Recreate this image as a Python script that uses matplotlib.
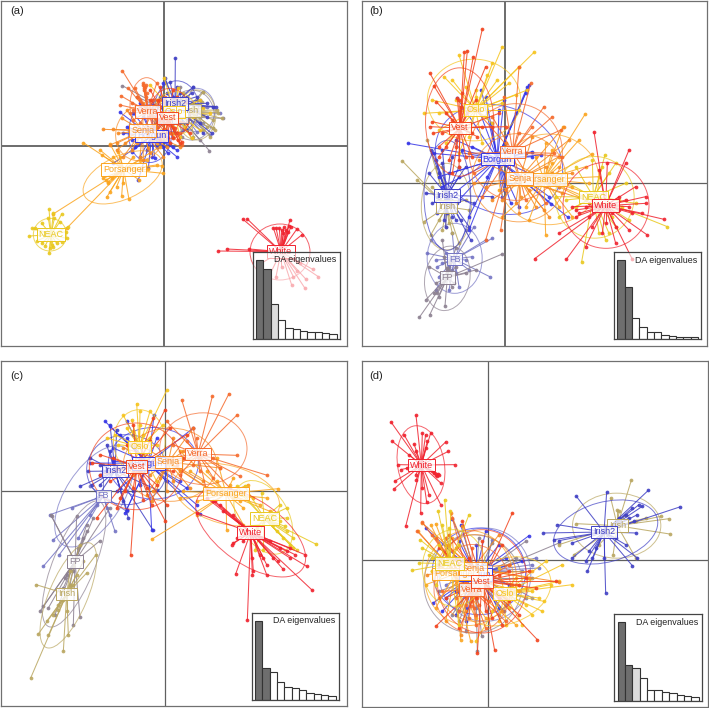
import matplotlib
matplotlib.use('Agg')
import matplotlib.pyplot as plt
from matplotlib.patches import Ellipse

plt.rcParams['font.family'] = ['Liberation Sans', 'DejaVu Sans']

COLORS = {'FB': '#7474c4', 'FP': '#8c8090', 'Irish': '#b9a660', 'Irish2': '#3f3fc4', 'Borgun': '#3535e6',
          'Oslo': '#f6c41c', 'Porsanger': '#fba51f', 'Senja': '#f78a22', 'Verra': '#f56a2c', 'Vest': '#f2441e',
          'NEAC': '#e9c81e', 'White': '#f0222e'}
ORDER = ['FB', 'FP', 'Irish', 'Irish2', 'Borgun', 'Oslo', 'Porsanger', 'Senja', 'Verra', 'Vest', 'NEAC', 'White']
EIG_COLORS = {'a': ['#6e6e6e', '#6e6e6e', '#dcdcdc'], 'b': ['#6e6e6e', '#6e6e6e', 'white'],
              'c': ['#6e6e6e', '#6e6e6e', 'white'], 'd': ['#6e6e6e', '#6e6e6e', '#dcdcdc']}

# Discriminant scores (one unit = 1/3 pixel)
A_CENTER = {'FB': (545,335), 'FP': (540,350), 'Irish': (570,332), 'Irish2': (525,311), 'Borgun': (455,408), 'Oslo': (522,336),
            'Porsanger': (371,508), 'Senja': (428,392), 'Verra': (443,334), 'Vest': (502,354), 'NEAC': (153,704), 'White': (843,755)}
A_ELLIPSE = {'FB': (590,330,110,130,0), 'FP': (575,345,135,150,0), 'Irish': (590,345,115,150,0), 'Irish2': (530,320,130,155,0),
             'Borgun': (450,400,130,175,0), 'Oslo': (525,340,130,130,0), 'Porsanger': (368,532,255,130,-25),
             'Senja': (420,400,145,165,15), 'Verra': (440,318,100,170,0), 'Vest': (510,340,120,150,0),
             'NEAC': (150,704,100,98,0), 'White': (840,756,180,168,0)}
A_FB = [(495,245),(580,260),(640,320),(660,340),(630,405),(590,395),(550,390),(560,290),(620,320),(600,350),(520,370),(610,370)]
A_FP = [(367,257),(628,452),(608,275),(668,355),(640,385),(600,420),(575,415),(410,290),(540,260),(490,300),(520,320),(545,410)]
A_IRISH = [(610,275),(605,305),(665,355),(655,338),(640,385),(645,390),(630,410),(610,390),(580,410),(555,380),(530,300),(520,350),(590,300),(550,280),(600,340),(620,380),(640,360),(650,330),(610,345)]
A_IRISH2 = [(526,173),(495,235),(510,245),(580,260),(600,300),(640,320),(648,320),(620,350),(600,370),(560,390),(520,400),(480,290),(500,280),(545,300),(590,335),(540,280),(575,310),(635,400),(610,400),(560,300),(610,320),(620,310),(590,290),(575,280),(530,260),(560,360)]
A_BORGUN = [(360,337),(395,455),(340,490),(415,540),(445,505),(465,475),(505,460),(530,470),(530,450),(510,430),(380,380),(400,340),(420,310),(490,250),(520,290),(500,310),(460,300),(430,350),(470,440),(420,470),(405,440),(440,450),(455,470),(490,440),(520,440),(395,420),(370,400),(470,360),(500,350)]
A_OSLO = [(450,255),(493,235),(535,265),(550,300),(600,300),(630,340),(600,390),(575,415),(540,410),(520,380),(470,300),(490,400),(610,325),(580,350),(555,380)]
A_PORSANGER = [(158,643),(200,685),(250,428),(305,465),(320,592),(365,587),(387,598),(370,550),(350,560),(330,575),(325,550),(310,535),(490,520),(487,497),(470,495),(418,540),(445,508),(330,432),(300,450),(318,540),(340,470),(360,470),(400,470),(420,480),(345,525),(335,535),(325,545),(355,455),(440,480),(480,440)]
A_SENJA = [(310,388),(338,388),(330,435),(355,400),(350,450),(370,470),(490,470),(450,460),(420,470),(395,450),(430,310),(480,300),(520,350),(500,420),(540,440),(470,430),(365,355),(380,330),(430,480),(520,400),(480,400),(460,420),(445,445),(410,430),(400,390),(375,430),(350,430),(450,380),(500,440)]
A_VERRA = [(367,212),(362,287),(360,315),(385,265),(405,265),(430,250),(437,255),(433,265),(440,280),(395,310),(410,290),(470,250),(495,290),(440,400),(480,420),(520,410),(545,435),(540,400),(400,360),(470,380),(500,370),(390,340),(430,255),(435,262),(432,270),(438,290),(420,300),(460,300),(475,340),(490,390),(510,400),(420,370),(400,330)]
A_VEST = [(450,270),(480,260),(520,270),(555,310),(570,400),(535,420),(510,430),(465,400),(445,350),(450,300),(490,300),(530,290),(560,370),(545,340),(480,420),(500,395),(525,385),(530,400),(540,430),(545,425),(520,415),(500,410),(470,370),(460,330),(475,300),(510,320),(540,370)]
A_NEAC = [(147,628),(160,640),(185,642),(163,655),(145,655),(105,685),(97,685),(88,708),(112,722),(125,730),(150,745),(147,760),(160,740),(185,725),(200,715),(205,680),(198,695),(125,670),(180,665),(135,738),(155,735),(170,730)]
A_WHITE = [(728,657),(742,657),(655,753),(680,747),(748,747),(820,683),(828,683),(838,685),(845,690),(852,682),(858,690),(870,660),(867,678),(873,680),(850,700),(890,688),(905,705),(865,695),(955,830),(938,808),(918,838),(915,865),(875,855),(828,830),(800,843),(780,792),(890,812),(900,790),(845,800),(880,830)]
A_POINTS = {'FB': A_FB, 'FP': A_FP, 'Irish': A_IRISH, 'Irish2': A_IRISH2, 'Borgun': A_BORGUN, 'Oslo': A_OSLO, 'Porsanger': A_PORSANGER,
            'Senja': A_SENJA, 'Verra': A_VERRA, 'Vest': A_VEST, 'NEAC': A_NEAC, 'White': A_WHITE}
A_EIGEN = [237,210,106,59,35,31,25,22,21,19,16]

B_CENTER = {'FB': (287,777), 'FP': (265,832), 'Irish': (263,620), 'Irish2': (264,586), 'Borgun': (415,477), 'Oslo': (350,330),
            'Porsanger': (555,538), 'Senja': (482,536), 'Verra': (461,456), 'Vest': (303,384), 'NEAC': (703,591), 'White': (740,617)}
B_ELLIPSE = {'FB': (287,775,165,210,0), 'FP': (265,835,135,195,10), 'Irish': (262,620,150,260,0), 'Irish2': (265,586,140,330,0),
             'Borgun': (420,478,395,315,25), 'Oslo': (345,300,280,245,0), 'Porsanger': (570,538,300,272,0),
             'Senja': (480,533,280,265,0), 'Verra': (470,456,280,290,0), 'Vest': (302,366,205,325,0),
             'NEAC': (707,592,237,245,0), 'White': (741,616,258,258,0)}
B_FB = [(215,720),(205,760),(235,800),(240,830),(280,700),(320,690),(345,680),(380,720),(400,715),(392,830),(340,770),(300,860),(270,870),(230,870),(250,790),(330,810),(280,810),(270,800),(290,820),(260,760),(320,780),(230,780)]
B_FP = [(181,952),(212,945),(258,918),(200,900),(235,880),(210,800),(250,720),(290,745),(430,762),(350,810),(320,820),(285,850),(265,805),(270,790),(230,850),(270,810),(280,860),(240,890),(225,880),(255,770),(290,800)]
B_IRISH = [(130,483),(205,420),(175,540),(195,665),(215,705),(280,700),(300,730),(330,630),(320,600),(250,500),(230,500),(220,560),(260,680),(270,670),(250,690),(240,660)]
B_IRISH2 = [(215,450),(230,480),(200,580),(220,610),(255,660),(290,660),(305,660),(330,680),(335,720),(400,590),(345,610),(300,500),(280,470),(250,490),(210,520),(320,500),(235,640),(260,680),(265,640),(280,650),(240,520),(225,460),(250,450),(300,530),(235,590),(295,610)]
B_BORGUN = [(146,430),(295,295),(367,270),(380,290),(435,300),(510,255),(520,455),(575,612),(627,652),(480,620),(435,570),(430,590),(330,690),(330,650),(300,600),(220,460),(240,530),(290,420),(545,465),(400,380),(470,340),(455,610),(505,260),(500,280),(360,330),(395,370),(420,330),(340,440),(310,450),(270,520),(250,560),(260,600),(500,460),(520,470),(570,590),(600,560),(440,540),(385,530)]
B_OSLO = [(430,140),(525,157),(300,165),(255,230),(195,340),(218,300),(352,270),(480,200),(505,270),(470,285),(430,310),(400,370),(480,330),(300,460),(260,430),(330,410),(415,240),(370,430),(240,390),(400,190),(385,225),(350,290),(380,350),(290,300),(240,340),(280,240),(320,260),(450,250)]
B_PORSANGER = [(678,343),(612,380),(660,420),(700,462),(680,500),(720,530),(560,705),(510,660),(640,650),(430,650),(420,570),(450,480),(560,430),(600,620),(530,470),(580,490),(500,620),(660,590),(700,600),(720,590),(640,560),(600,500),(580,450),(690,550)]
B_SENJA = [(520,410),(615,380),(630,420),(600,470),(580,520),(610,580),(555,630),(480,640),(430,600),(380,560),(345,550),(360,480),(440,430),(570,650),(530,620),(485,590),(510,570),(560,500),(600,560),(640,520),(680,600),(520,520),(440,570),(400,600),(470,610),(590,550)]
B_VERRA = [(480,200),(515,250),(435,290),(555,320),(580,350),(605,390),(585,460),(560,610),(500,600),(425,690),(370,590),(330,460),(350,330),(400,350),(480,400),(520,380),(345,520),(610,470),(380,720)]
B_VEST = [(370,87),(325,152),(316,155),(343,170),(380,200),(213,220),(225,258),(232,305),(295,295),(220,365),(212,380),(222,400),(260,440),(240,470),(400,380),(440,380),(355,410),(340,470),(300,500),(280,520),(310,280),(350,300),(420,340),(260,340),(300,300),(305,320),(280,360),(330,330),(250,400),(290,440),(320,470),(300,480),(340,400),(370,380),(240,440),(270,480)]
B_NEAC = [(738,465),(750,520),(800,550),(925,680),(830,610),(810,660),(740,720),(720,700),(668,785),(600,650),(590,590),(610,540),(650,500),(700,480),(770,490),(620,600),(730,500),(790,620),(770,680),(780,600),(760,650),(650,620),(720,620),(750,700)]
B_WHITE = [(705,395),(810,450),(800,490),(860,590),(860,610),(915,658),(865,705),(810,690),(820,778),(770,730),(740,670),(680,740),(622,778),(527,776),(600,700),(650,630),(640,620),(720,510),(745,490),(830,560),(850,640),(780,590),(690,650),(760,640),(680,620),(690,610),(660,640),(780,630),(820,640),(800,600),(700,680),(730,700),(810,620),(650,650),(770,680)]
B_POINTS = {'FB': B_FB, 'FP': B_FP, 'Irish': B_IRISH, 'Irish2': B_IRISH2, 'Borgun': B_BORGUN, 'Oslo': B_OSLO, 'Porsanger': B_PORSANGER,
            'Senja': B_SENJA, 'Verra': B_VERRA, 'Vest': B_VEST, 'NEAC': B_NEAC, 'White': B_WHITE}
B_EIGEN = [237,158,63,38,22,21,14,11,8,8,6]

C_CENTER = {'FB': (310,414), 'FP': (225,610), 'Irish': (200,708), 'Irish2': (345,339), 'Borgun': (445,316), 'Oslo': (418,267),
            'Porsanger': (678,407), 'Senja': (505,312), 'Verra': (594,288), 'Vest': (410,326), 'NEAC': (793,481), 'White': (752,523)}
C_ELLIPSE = {'FB': (282,415,170,345,33), 'FP': (222,618,125,405,22), 'Irish': (205,712,115,340,23), 'Irish2': (380,335,240,210,0),
             'Borgun': (460,316,270,215,0), 'Oslo': (418,250,155,190,0), 'Porsanger': (680,410,325,175,15),
             'Senja': (510,320,280,220,0), 'Verra': (610,272,262,215,0), 'Vest': (408,325,280,260,0),
             'NEAC': (790,478,150,240,-30), 'White': (752,523,380,190,35)}
C_FB = [(158,547),(130,625),(178,590),(150,470),(215,450),(270,385),(290,440),(330,470),(380,460),(310,320),(235,540),(345,520),(270,470),(320,450)]
C_FP = [(152,470),(155,475),(120,760),(130,745),(145,750),(220,800),(240,777),(230,475),(260,500),(300,548),(330,450),(200,650),(190,690),(165,770),(235,570),(260,520),(250,540),(240,560),(220,640),(210,680),(195,660),(280,480)]
C_IRISH = [(92,960),(108,680),(115,828),(145,832),(140,790),(190,880),(205,830),(190,725),(260,645),(288,590),(240,560),(210,640),(175,755),(160,770),(220,680),(210,680),(190,700),(175,740),(200,760),(230,650),(250,610)]
C_IRISH2 = [(330,200),(350,215),(270,300),(265,340),(240,385),(380,455),(385,480),(458,515),(470,395),(330,280),(300,320),(400,400),(360,390),(275,380),(320,260),(340,300),(300,380),(290,420),(370,430)]
C_BORGUN = [(315,190),(330,205),(380,190),(462,172),(580,210),(600,468),(455,515),(380,455),(375,465),(270,315),(300,350),(340,270),(470,240),(540,370),(420,380),(360,230),(380,240),(400,230),(340,310),(500,370),(560,390),(590,440),(420,300),(480,300),(350,400),(310,340)]
C_OSLO = [(500,97),(410,137),(370,172),(395,185),(420,160),(450,160),(320,240),(345,230),(355,260),(470,260),(470,370),(400,330),(440,300),(490,200),(380,210),(400,220),(430,230),(420,200),(450,240)]
C_PORSANGER = [(455,544),(540,420),(590,430),(590,470),(680,515),(730,500),(835,392),(745,380),(700,360),(620,340),(570,340),(540,280),(650,300),(780,440),(720,430),(620,400),(550,400),(700,420),(730,450),(760,420),(690,380),(650,370),(800,420),(810,460)]
C_SENJA = [(580,210),(600,300),(640,400),(660,330),(500,400),(455,430),(400,350),(390,310),(370,270),(420,260),(520,240),(550,280),(460,400),(610,370),(440,410),(520,370),(540,340),(570,390),(620,390),(480,360),(450,350)]
C_VERRA = [(545,125),(637,115),(687,107),(712,170),(500,190),(580,210),(590,240),(710,292),(802,352),(720,355),(660,330),(620,400),(540,350),(500,300),(520,260),(640,300),(600,340),(560,250),(580,320),(640,360),(690,390),(530,320)]
C_VEST = [(495,155),(460,180),(400,200),(510,210),(275,315),(300,290),(330,370),(392,592),(495,488),(430,425),(350,450),(550,300),(560,230),(375,400),(290,480),(455,440),(300,350),(340,300),(380,260),(450,250),(480,300),(520,340),(360,420),(400,390),(470,380),(500,440),(440,390),(350,330)]
C_NEAC = [(947,558),(890,575),(860,450),(855,505),(765,575),(790,575),(880,540),(840,440),(785,405),(735,385),(725,410),(710,385),(870,560),(830,520),(815,470),(840,490),(860,520),(850,540),(880,570),(820,500),(790,540),(770,510),(860,480)]
C_WHITE = [(742,787),(707,648),(757,650),(760,640),(790,600),(700,555),(695,560),(848,632),(800,650),(920,625),(937,697),(885,590),(915,590),(640,430),(620,420),(590,465),(670,460),(810,550),(840,570),(710,540),(755,600),(870,600),(730,550),(780,590),(820,600),(860,580),(870,570),(700,470),(660,440),(645,430),(780,540),(800,620),(835,610)]
C_POINTS = {'FB': C_FB, 'FP': C_FP, 'Irish': C_IRISH, 'Irish2': C_IRISH2, 'Borgun': C_BORGUN, 'Oslo': C_OSLO, 'Porsanger': C_PORSANGER,
            'Senja': C_SENJA, 'Verra': C_VERRA, 'Vest': C_VEST, 'NEAC': C_NEAC, 'White': C_WHITE}
C_EIGEN = [236,96,83,52,39,36,30,19,18,15,10]

D_CENTER = {'FB': (375,640), 'FP': (350,660), 'Irish': (775,503), 'Irish2': (735,522), 'Borgun': (350,650), 'Oslo': (436,706),
            'Porsanger': (288,648), 'Senja': (342,631), 'Verra': (337,694), 'Vest': (369,670), 'NEAC': (272,617), 'White': (187,321)}
D_ELLIPSE = {'FB': (378,650,275,280,0), 'FP': (342,678,295,295,0), 'Irish': (773,503,265,195,0), 'Irish2': (740,522,320,180,-15),
             'Borgun': (360,640,280,260,0), 'Oslo': (438,700,285,195,-20), 'Porsanger': (330,660,265,285,0),
             'Senja': (350,660,245,260,0), 'Verra': (340,692,230,265,0), 'Vest': (370,670,270,310,0),
             'NEAC': (285,630,190,230,0), 'White': (186,320,140,236,-10)}
D_FB = [(540,630),(530,600),(400,545),(290,600),(300,700),(350,750),(440,740),(490,640),(420,770),(260,680),(520,620),(520,720)]
D_FP = [(355,880),(368,835),(320,820),(240,700),(520,660),(500,720),(500,550),(400,555),(360,540),(600,555),(470,600),(300,790),(280,770)]
D_IRISH = [(817,367),(755,420),(775,455),(930,482),(905,475),(932,528),(830,600),(762,592),(720,560),(652,497),(600,560),(645,590),(800,470),(780,460),(830,490),(860,480),(770,520)]
D_IRISH2 = [(652,415),(743,403),(868,397),(962,447),(850,445),(825,490),(832,525),(835,600),(820,623),(770,540),(740,705),(685,640),(680,610),(595,500),(553,525),(585,545),(640,555),(700,600),(840,440),(800,560),(735,600),(780,480),(800,470),(810,480),(820,450),(835,470),(690,580),(710,570),(600,548),(640,600)]
D_BORGUN = [(222,735),(200,510),(280,482),(305,500),(510,533),(435,760),(290,770),(250,760),(320,790),(420,750),(350,560),(490,610),(300,550),(450,680),(230,640),(290,700),(260,720),(320,750),(380,520),(420,560),(440,600),(300,620)]
D_OSLO = [(640,680),(575,680),(555,730),(550,760),(490,800),(440,800),(350,850),(500,690),(470,660),(420,630),(560,610),(600,670),(400,760),(520,770),(480,680),(520,700),(540,720),(500,740),(450,750),(420,790),(610,620)]
D_PORSANGER = [(230,497),(178,520),(215,500),(235,620),(305,845),(335,850),(470,800),(520,640),(350,780),(260,790),(200,680),(280,540),(440,720),(230,750),(240,560),(220,640),(300,740),(320,760),(380,780),(480,700)]
D_SENJA = [(190,495),(275,465),(310,505),(420,530),(510,660),(600,672),(430,760),(305,830),(240,720),(205,650),(260,560),(360,680),(450,620),(270,600),(290,570),(400,640),(430,700),(460,680)]
D_VERRA = [(190,493),(175,520),(220,530),(280,480),(300,760),(330,780),(350,800),(380,810),(440,790),(450,620),(360,740),(320,740),(250,700),(240,620),(340,570),(390,730),(400,650),(340,730),(345,750),(350,770),(335,745),(355,720),(320,720),(290,720),(270,560),(260,540),(230,540),(300,600)]
D_VEST = [(460,465),(535,845),(480,770),(310,490),(270,530),(240,570),(260,720),(230,805),(300,810),(407,877),(355,885),(430,800),(510,640),(530,690),(590,670),(430,560),(370,550),(400,780),(420,650),(450,640),(480,680),(500,660),(350,720),(380,760),(300,640),(330,600),(420,720),(450,730)]
D_NEAC = [(257,425),(237,458),(183,545),(160,637),(180,615),(210,590),(190,570),(272,460),(300,800),(230,680),(350,640),(300,560),(330,470),(240,560),(220,600),(220,640),(250,500),(270,510)]
D_WHITE = [(96,192),(171,172),(135,230),(100,250),(165,258),(190,225),(215,225),(260,252),(268,280),(288,320),(117,320),(125,335),(107,370),(105,393),(140,505),(185,465),(203,432),(245,440),(245,375),(240,350),(232,350),(210,410),(172,365),(150,290),(235,355),(238,348),(225,345),(200,230),(205,250),(200,270),(170,280),(145,330),(170,350),(190,390)]
D_POINTS = {'FB': D_FB, 'FP': D_FP, 'Irish': D_IRISH, 'Irish2': D_IRISH2, 'Borgun': D_BORGUN, 'Oslo': D_OSLO, 'Porsanger': D_PORSANGER,
            'Senja': D_SENJA, 'Verra': D_VERRA, 'Vest': D_VEST, 'NEAC': D_NEAC, 'White': D_WHITE}
D_EIGEN = [237,109,98,68,34,32,26,23,18,16,12]

PANELS = {
    'a': dict(center=A_CENTER, ellipse=A_ELLIPSE, points=A_POINTS, eigen=A_EIGEN, off=(0, 0), frame=(3, 2, 1041, 1038), cross=(491, 437), inset=(758, 755, 1019, 1018), cross_lw=(1.3, 1.3), tag=(50, 33)),
    'b': dict(center=B_CENTER, ellipse=B_ELLIPSE, points=B_POINTS, eigen=B_EIGEN, off=(359, 0), frame=(10, 2, 1045, 1038), cross=(438, 550), inset=(765, 757, 1026, 1018), cross_lw=(1.3, 0.9), tag=(50, 32)),
    'c': dict(center=C_CENTER, ellipse=C_ELLIPSE, points=C_POINTS, eigen=C_EIGEN, off=(0, 358), frame=(3, 10, 1040, 1045), cross=(496, 398), inset=(755, 764, 1016, 1025), cross_lw=(0.9, 0.9), tag=(50, 55)),
    'd': dict(center=D_CENTER, ellipse=D_ELLIPSE, points=D_POINTS, eigen=D_EIGEN, off=(359, 358), frame=(10, 10, 1047, 1047), cross=(387, 605), inset=(766, 768, 1028, 1029), cross_lw=(0.9, 0.9), tag=(50, 55)),
}

W, H = 709, 708
fig = plt.figure(figsize=(W / 100, H / 100), dpi=100)


def rect(off, box):
    x0, y0, x1, y1 = box
    left = off[0] + x0 / 3
    right = off[0] + x1 / 3
    top = off[1] + y0 / 3
    bottom = off[1] + y1 / 3
    return [left / W, 1 - bottom / H, (right - left) / W, (bottom - top) / H]


for key, p in PANELS.items():
    x0, y0, x1, y1 = p['frame']
    ax = fig.add_axes(rect(p['off'], p['frame']))
    ax.set_xlim(x0, x1)
    ax.set_ylim(y1, y0)
    ax.set_xticks([])
    ax.set_yticks([])
    for s in ax.spines.values():
        s.set_color('#707070')
        s.set_linewidth(0.9)
    ax.axvline(p['cross'][0], color='#606060', lw=p['cross_lw'][0], zorder=1)
    ax.axhline(p['cross'][1], color='#606060', lw=p['cross_lw'][1], zorder=1)
    for name in ORDER:
        col = COLORS[name]
        cx, cy = p['center'][name]
        for (px, py) in p['points'][name]:
            ax.plot([cx, px], [cy, py], color=col, lw=0.75, alpha=0.85, zorder=2, solid_capstyle='round')
        xs = [q[0] for q in p['points'][name]]
        ys = [q[1] for q in p['points'][name]]
        ax.plot(xs, ys, ls='none', marker='o', ms=2.7, mfc=col, mec=col, mew=0, alpha=0.9, zorder=2)
        ex, ey, ew, eh, ea = p['ellipse'][name]
        ax.add_patch(Ellipse((ex, ey), ew, eh, angle=ea, fill=False, ec=col, lw=0.7, alpha=0.7, zorder=2))
    for i, name in enumerate(ORDER):
        cx, cy = p['center'][name]
        ax.text(cx, cy, name, color=COLORS[name], fontsize=6.5, ha='center', va='center', zorder=3 + i * 0.01,
                bbox=dict(boxstyle='square,pad=0.22', fc=(1, 1, 1, 0.78), ec=COLORS[name], lw=0.7))
    ax.text(p['tag'][0], p['tag'][1], f'({key})', fontsize=8, ha='center', va='center', color='#222222', zorder=6)

    ix0, iy0, ix1, iy1 = p['inset']
    iax = fig.add_axes(rect(p['off'], p['inset']), zorder=5)
    iax.set_facecolor((1, 1, 1, 0.62))
    iax.set_xlim(-10 / 22, 11 + 9 / 22)
    iax.set_ylim(0, iy1 - iy0)
    iax.set_xticks([])
    iax.set_yticks([])
    for s in iax.spines.values():
        s.set_color('#444444')
        s.set_linewidth(0.9)
    shades = EIG_COLORS[key] + ['white'] * (len(p['eigen']) - 3)
    iax.bar(range(len(p['eigen'])), p['eigen'], width=1, align='edge', color=shades, edgecolor='#333333', lw=0.8)
    iax.text(0.60, 0.905, 'DA eigenvalues', transform=iax.transAxes, fontsize=6.4, ha='center', va='center', color='#222222')

fig.savefig('out.png', dpi=100)
